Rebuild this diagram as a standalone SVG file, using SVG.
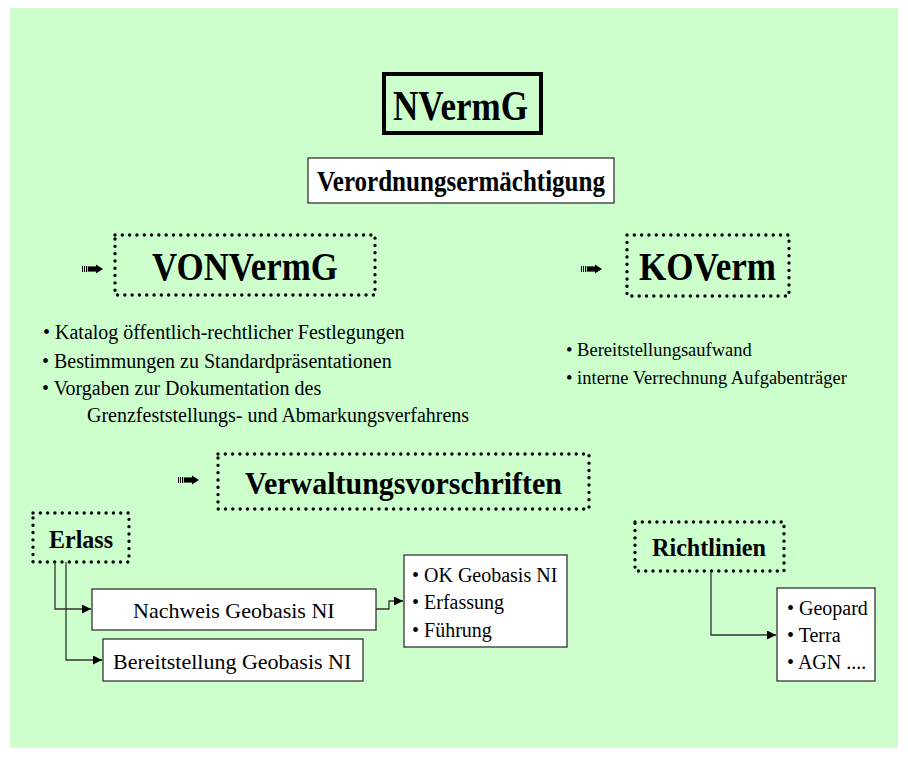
<svg xmlns="http://www.w3.org/2000/svg" width="908" height="758" viewBox="0 0 908 758">
<style>
.bg{fill:#ccffcc}
.t{font-family:"Liberation Serif","Times New Roman",serif;fill:#000}
.b{font-weight:bold}
.dot{fill:none;stroke:#000;stroke-width:3.4;stroke-linecap:round;stroke-dasharray:0.01 7.3}
.box{fill:#fff;stroke:#333;stroke-width:1.3}
.con{fill:none;stroke:#333;stroke-width:1.3}
</style>
<defs>
<marker id="ah" markerUnits="userSpaceOnUse" markerWidth="10" markerHeight="10" refX="9" refY="4.5" orient="auto">
<path d="M0,0 L9,4.5 L0,9 Z" fill="#000"/>
</marker>
<g id="ico">
<rect x="0" y="-3" width="1" height="6" fill="#000"/>
<rect x="2" y="-3" width="1" height="6" fill="#000"/>
<rect x="4" y="-3" width="1.2" height="6" fill="#000"/>
<rect x="6" y="-2.6" width="9" height="5.2" fill="#000"/>
<path d="M14,-4.5 L21,0 L14,4.5 Z" fill="#000"/>
</g>
</defs>
<rect x="10" y="8" width="888" height="740" class="bg"/>

<g id="nvermg">
<rect x="384" y="74" width="157" height="59" fill="none" stroke="#000" stroke-width="4"/>
<text class="t b" x="393" y="120" font-size="42" textLength="135" lengthAdjust="spacingAndGlyphs">NVermG</text>
</g>

<g id="verordnung">
<rect x="308" y="158" width="306" height="45" class="box" stroke="#000"/>
<text class="t b" x="317" y="191" font-size="29" textLength="288" lengthAdjust="spacingAndGlyphs">Verordnungsermächtigung</text>
</g>

<g id="vonvermg">
<use href="#ico" x="82" y="269"/>
<rect x="115" y="235" width="260" height="60" class="dot"/>
<text class="t b" x="152" y="280" font-size="40" textLength="186" lengthAdjust="spacingAndGlyphs">VONVermG</text>
</g>

<g id="koverm">
<use href="#ico" x="581" y="269"/>
<rect x="627" y="235" width="162" height="61" class="dot"/>
<text class="t b" x="639" y="280" font-size="40" textLength="137" lengthAdjust="spacingAndGlyphs">KOVerm</text>
</g>

<g id="von-bullets">
<text class="t" font-size="20" x="43" y="339">• Katalog öffentlich-rechtlicher Festlegungen</text>
<text class="t" font-size="20" x="42" y="368">• Bestimmungen zu Standardpräsentationen</text>
<text class="t" font-size="20" x="42" y="395">• Vorgaben zur Dokumentation des</text>
<text class="t" font-size="20" x="87" y="422">Grenzfeststellungs- und Abmarkungsverfahrens</text>
</g>

<g id="ko-bullets">
<text class="t" font-size="18.5" x="566" y="356">• Bereitstellungsaufwand</text>
<text class="t" font-size="18.5" x="566" y="384">• interne Verrechnung Aufgabenträger</text>
</g>

<g id="verwaltung">
<use href="#ico" x="178" y="480"/>
<rect x="218" y="454" width="371" height="55" class="dot"/>
<text class="t b" x="245" y="494" font-size="32" textLength="317" lengthAdjust="spacingAndGlyphs">Verwaltungsvorschriften</text>
</g>

<g id="erlass">
<rect x="33" y="513" width="96" height="49" class="dot"/>
<text class="t b" x="49" y="548" font-size="26" textLength="64" lengthAdjust="spacingAndGlyphs">Erlass</text>
</g>

<g id="nachweis">
<rect x="92" y="589" width="284" height="41" class="box"/>
<text class="t" x="133" y="618" font-size="22">Nachweis Geobasis NI</text>
</g>

<g id="bereitstellung">
<rect x="103" y="639" width="260" height="42" class="box"/>
<text class="t" x="113" y="669" font-size="22">Bereitstellung Geobasis NI</text>
</g>

<g id="ok-list">
<rect x="404" y="555" width="163" height="92" class="box"/>
<text class="t" font-size="20" x="412" y="582">• OK Geobasis NI</text>
<text class="t" font-size="20" x="412" y="609">• Erfassung</text>
<text class="t" font-size="20" x="412" y="637">• Führung</text>
</g>

<g id="richtlinien">
<rect x="635" y="522" width="149" height="49" class="dot"/>
<text class="t b" x="652" y="556" font-size="26" textLength="114" lengthAdjust="spacingAndGlyphs">Richtlinien</text>
</g>

<g id="geopard-list">
<rect x="777" y="588" width="98" height="93" class="box"/>
<text class="t" font-size="20" x="787" y="615">• Geopard</text>
<text class="t" font-size="20" x="787" y="642">• Terra</text>
<text class="t" font-size="20" x="787" y="669">• AGN ....</text>
</g>

<g id="connectors">
<path class="con" d="M55,562 V609 H91" marker-end="url(#ah)"/>
<path class="con" d="M66,562 V660 H102" marker-end="url(#ah)"/>
<path class="con" d="M376,609 H389 V601 H403" marker-end="url(#ah)"/>
<path class="con" d="M711,571 V635 H776" marker-end="url(#ah)"/>
</g>
</svg>
